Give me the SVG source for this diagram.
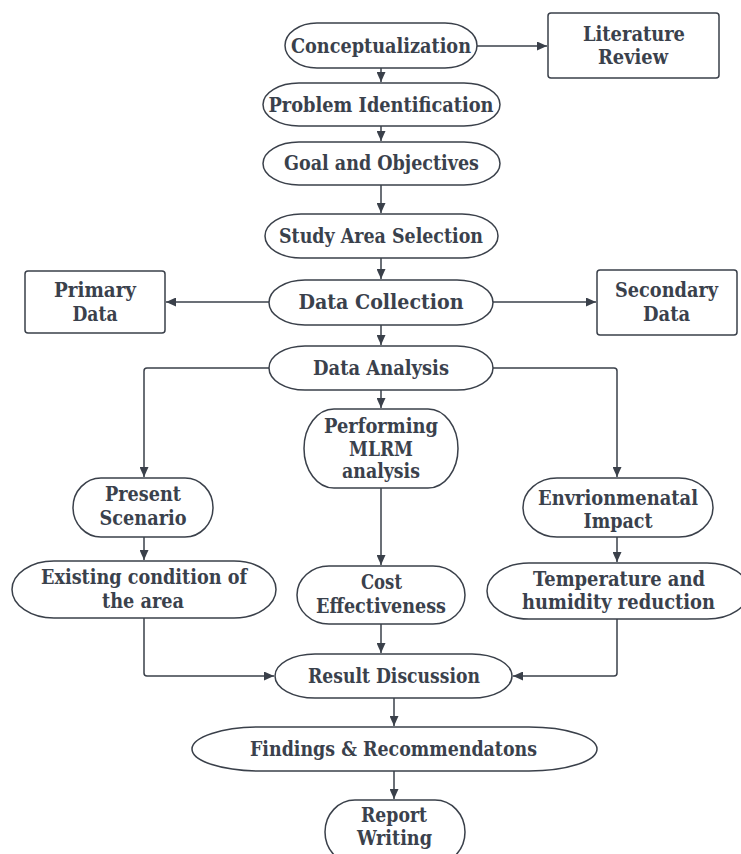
<svg xmlns="http://www.w3.org/2000/svg" width="741" height="854" viewBox="0 0 741 854">
<style>
.n{fill:#ffffff;stroke:#3a404a;stroke-width:1.5}
.t{font-family:"DejaVu Serif","Liberation Serif",serif;font-weight:bold;font-size:20px;fill:#3a414c;text-anchor:middle}
.c{fill:none;stroke:#3a404a;stroke-width:1.5;marker-end:url(#ah)}
</style>
<defs>
<marker id="ah" markerUnits="userSpaceOnUse" markerWidth="11" markerHeight="9" refX="10" refY="4.5" orient="auto">
<path d="M0,0 L10,4.5 L0,9 z" fill="#3a404a"/>
</marker>
</defs>
<rect width="741" height="854" fill="#ffffff"/>
<g id="connectors">
<path class="c" d="M477,46 H547"/>
<path class="c" d="M381,68 V82"/>
<path class="c" d="M381,126 V141"/>
<path class="c" d="M381,185 V213"/>
<path class="c" d="M381,258 V279"/>
<path class="c" d="M269,302 H166"/>
<path class="c" d="M493,302 H596"/>
<path class="c" d="M381,325 V345"/>
<path class="c" d="M269,368 H147 Q144,368 144,371 V477"/>
<path class="c" d="M493,368 H614 Q617,368 617,371 V477"/>
<path class="c" d="M381,390 V408"/>
<path class="c" d="M144,537 V560"/>
<path class="c" d="M381,488 V565"/>
<path class="c" d="M617,537 V562"/>
<path class="c" d="M144,618 V673 Q144,676 147,676 H274"/>
<path class="c" d="M381,624 V653"/>
<path class="c" d="M617,619 V673 Q617,676 614,676 H513"/>
<path class="c" d="M394,698 V726"/>
<path class="c" d="M394,771 V799"/>
</g>
<g id="conceptualization">
<rect class="n" x="285" y="23" width="192" height="45" rx="32" ry="22.5"/>
<text class="t" x="381" y="53" textLength="180" lengthAdjust="spacingAndGlyphs">Conceptualization</text>
</g>
<g id="literature-review">
<rect class="n" x="548" y="13" width="171" height="65" rx="3"/>
<text class="t" x="634" y="41" textLength="102" lengthAdjust="spacingAndGlyphs">Literature</text>
<text class="t" x="633" y="64" textLength="70" lengthAdjust="spacingAndGlyphs">Review</text>
</g>
<g id="problem-identification">
<rect class="n" x="263" y="83" width="237" height="43" rx="36" ry="21.5"/>
<text class="t" x="381" y="112" textLength="225" lengthAdjust="spacingAndGlyphs">Problem Identification</text>
</g>
<g id="goal-objectives">
<rect class="n" x="263" y="142" width="237" height="43" rx="36" ry="21.5"/>
<text class="t" x="381.5" y="170" textLength="195" lengthAdjust="spacingAndGlyphs">Goal and Objectives</text>
</g>
<g id="study-area-selection">
<rect class="n" x="265" y="214" width="233" height="44" rx="36" ry="22"/>
<text class="t" x="381" y="243" textLength="204" lengthAdjust="spacingAndGlyphs">Study Area Selection</text>
</g>
<g id="primary-data">
<rect class="n" x="25" y="271" width="140" height="62" rx="3"/>
<text class="t" x="95" y="297" textLength="82" lengthAdjust="spacingAndGlyphs">Primary</text>
<text class="t" x="95" y="321" textLength="45" lengthAdjust="spacingAndGlyphs">Data</text>
</g>
<g id="data-collection">
<rect class="n" x="269" y="280" width="224" height="45" rx="36" ry="22.5"/>
<text class="t" x="381" y="309" textLength="165" lengthAdjust="spacingAndGlyphs">Data Collection</text>
</g>
<g id="secondary-data">
<rect class="n" x="597" y="270" width="140" height="65" rx="3"/>
<text class="t" x="666.5" y="297" textLength="103" lengthAdjust="spacingAndGlyphs">Secondary</text>
<text class="t" x="666.5" y="321" textLength="47" lengthAdjust="spacingAndGlyphs">Data</text>
</g>
<g id="data-analysis">
<rect class="n" x="269" y="346" width="224" height="44" rx="36" ry="22"/>
<text class="t" x="381" y="375" textLength="136" lengthAdjust="spacingAndGlyphs">Data Analysis</text>
</g>
<g id="performing-mlrm">
<rect class="n" x="304" y="409" width="154" height="79" rx="30" ry="39.5"/>
<text class="t" x="381" y="433" textLength="114" lengthAdjust="spacingAndGlyphs">Performing</text>
<text class="t" x="381" y="456" textLength="64" lengthAdjust="spacingAndGlyphs">MLRM</text>
<text class="t" x="381" y="478" textLength="78" lengthAdjust="spacingAndGlyphs">analysis</text>
</g>
<g id="present-scenario">
<rect class="n" x="73" y="478" width="140" height="59" rx="28" ry="29.5"/>
<text class="t" x="143" y="501" textLength="76" lengthAdjust="spacingAndGlyphs">Present</text>
<text class="t" x="143" y="525" textLength="87" lengthAdjust="spacingAndGlyphs">Scenario</text>
</g>
<g id="environmental-impact">
<rect class="n" x="523" y="478" width="190" height="59" rx="34" ry="29.5"/>
<text class="t" x="618" y="505" textLength="160" lengthAdjust="spacingAndGlyphs">Envrionmenatal</text>
<text class="t" x="618" y="528" textLength="69" lengthAdjust="spacingAndGlyphs">Impact</text>
</g>
<g id="existing-condition">
<rect class="n" x="12" y="561" width="264" height="57" rx="42" ry="28.5"/>
<text class="t" x="144" y="584" textLength="206" lengthAdjust="spacingAndGlyphs">Existing condition of</text>
<text class="t" x="143" y="608" textLength="82" lengthAdjust="spacingAndGlyphs">the area</text>
</g>
<g id="cost-effectiveness">
<rect class="n" x="297" y="566" width="168" height="58" rx="32" ry="29"/>
<text class="t" x="381.5" y="589" textLength="41" lengthAdjust="spacingAndGlyphs">Cost</text>
<text class="t" x="381" y="613" textLength="130" lengthAdjust="spacingAndGlyphs">Effectiveness</text>
</g>
<g id="temperature-humidity">
<rect class="n" x="487" y="563" width="262" height="56" rx="42" ry="28"/>
<text class="t" x="619" y="586" textLength="172" lengthAdjust="spacingAndGlyphs">Temperature and</text>
<text class="t" x="618.5" y="609" textLength="193" lengthAdjust="spacingAndGlyphs">humidity reduction</text>
</g>
<g id="result-discussion">
<rect class="n" x="275" y="654" width="237" height="44" rx="40" ry="22"/>
<text class="t" x="394" y="683" textLength="172" lengthAdjust="spacingAndGlyphs">Result Discussion</text>
</g>
<g id="findings-recommendations">
<rect class="n" x="192" y="727" width="405" height="44" rx="68" ry="22"/>
<text class="t" x="393.5" y="756" textLength="287" lengthAdjust="spacingAndGlyphs">Findings &amp; Recommendatons</text>
</g>
<g id="report-writing">
<rect class="n" x="325" y="800" width="140" height="64" rx="30" ry="32"/>
<text class="t" x="394" y="822" textLength="66" lengthAdjust="spacingAndGlyphs">Report</text>
<text class="t" x="394.5" y="845" textLength="75" lengthAdjust="spacingAndGlyphs">Writing</text>
</g>
</svg>
